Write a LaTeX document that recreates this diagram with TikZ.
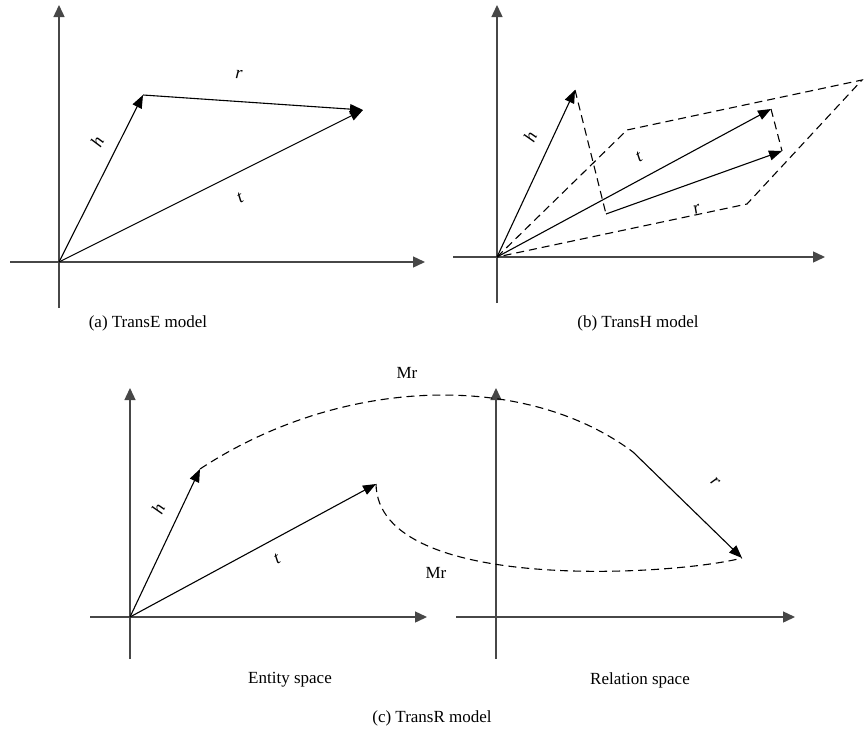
\documentclass[tikz,border=0pt]{standalone}
\usepackage{fontspec}
\setmainfont{Liberation Serif}
\usetikzlibrary{arrows.meta}
\tikzset{
  axis/.style={-{Triangle[length=12pt,width=11pt]}, line width=1.4pt, draw=black!72},
  vec/.style={-{Triangle[length=13pt,width=10pt]}, line width=1.1pt, draw=black},
  proj/.style={dash pattern=on 8pt off 5pt, line width=1.1pt, draw=black},
  lbl/.style={font=\fontsize{18}{18}\selectfont\itshape, inner sep=1pt},
  captext/.style={font=\fontsize{17}{20}\selectfont, inner sep=0pt}
}

\begin{document}
\begin{tikzpicture}[x=1pt,y=-1pt]
  \useasboundingbox (0,0) rectangle (864,731);
  % four coordinate systems
  \foreach \nm/\ox/\oy/\xl/\xr/\yb/\yt in {a/59/262/10/425/308/5, b/497/257/453/825/303/5,
      e/130/617/90/427/659/388, s/496/617/456/795/659/388}{
    \coordinate (o\nm) at (\ox,\oy);
    \coordinate (xl\nm) at (\xl,\oy);
    \coordinate (xr\nm) at (\xr,\oy);
    \coordinate (yb\nm) at (\ox,\yb);
    \coordinate (yt\nm) at (\ox,\yt);
    \draw[axis] (xl\nm) -- (xr\nm);
    \draw[axis] (yb\nm) -- (yt\nm);
  }

  % (a) TransE
  \coordinate (ha) at (143,95);
  \coordinate (ta) at (363,110);
  \draw[vec] (oa) -- (ha);
  \draw[vec] (ha) -- (ta);
  \draw[vec] (oa) -- (ta);
  \node[lbl, rotate=63] (lha) at (97,142) {h};
  \node[lbl, rotate=-4] (lra) at (239,75) {r};
  \node[lbl, rotate=27] (lta) at (240,198) {t};
  \node[captext] (capa) at (148,323) {(a) TransE model};

  % (b) TransH
  \coordinate (pl) at (627,130);
  \coordinate (pt) at (862,80);
  \coordinate (pr) at (747,204);
  \draw[proj] (ob) -- (pl) -- (pt) -- (pr) -- cycle;
  \coordinate (hb) at (575,90);
  \coordinate (tb) at (771,109);
  \coordinate (rsb) at (606,214);
  \coordinate (reb) at (782,151);
  \draw[proj] (hb) -- (rsb);
  \draw[proj] (tb) -- (reb);
  \draw[vec] (ob) -- (hb);
  \draw[vec] (ob) -- (tb);
  \draw[vec] (rsb) -- (reb);
  \node[lbl, rotate=65] (lhb) at (530,137) {h};
  \node[lbl, rotate=28] (ltb) at (639,157) {t};
  \node[lbl, rotate=20] (lrb) at (697,209) {r};
  \node[captext] (capb) at (638,323) {(b) TransH model};

  % (c) TransR
  \coordinate (hc) at (200,469);
  \coordinate (tc) at (376,484);
  \coordinate (rsc) at (633,452);
  \coordinate (rec) at (742,558);
  \draw[vec] (oe) -- (hc);
  \draw[vec] (oe) -- (tc);
  \draw[vec] (rsc) -- (rec);
  \draw[proj] (hc) .. controls (343,375) and (526,372) .. (rsc);
  \draw[proj] (tc) .. controls (378,595) and (679,575) .. (rec);
  \node[lbl, rotate=65] (lhc) at (158,509) {h};
  \node[lbl, rotate=28] (ltc) at (277,559) {t};
  \node[lbl, rotate=-44] (lrc) at (715,482) {r};
  \node[captext] (mrup) at (407,373) {Mr};
  \node[captext] (mrlo) at (436,573) {Mr};
  \node[captext] (ent) at (290,680) {Entity space};
  \node[captext] (rel) at (640,680) {Relation space};
  \node[captext] (capc) at (432,718) {(c) TransR model};
\end{tikzpicture}
\end{document}
